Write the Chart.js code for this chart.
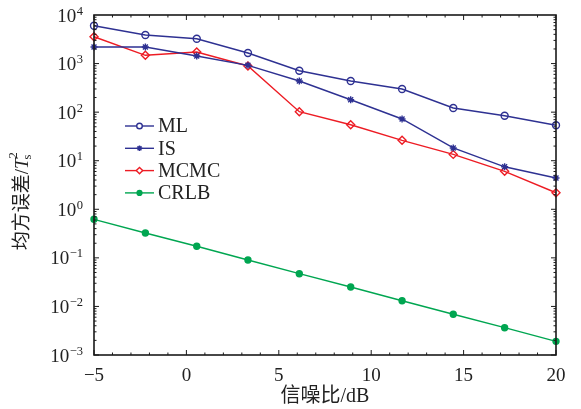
<!DOCTYPE html>
<html>
<head>
<meta charset="utf-8">
<script src="https://cdn.jsdelivr.net/npm/chart.js@4"></script>
<style>
  html, body { margin: 0; padding: 0; background: #fff; }
  #wrap { width: 581px; height: 409px; }
</style>
</head>
<body>
<div id="wrap"><canvas id="myChart" width="581" height="409"></canvas></div>
<script>
// SNR (dB) at which each method was evaluated
var snr = [-5, -2.22, 0.56, 3.33, 6.11, 8.89, 11.67, 14.44, 17.22, 20];

var mseML   = [6000, 3870, 3250, 1650, 713, 438, 299, 122, 84.5, 53.7];
var mseIS   = [2190, 2190, 1430, 921, 438, 180, 72.3, 18.3, 7.5, 4.4];
var mseMCMC = [3570, 1480, 1730, 891, 102, 55, 26.3, 13.5, 6.05, 2.19];
var mseCRLB = [0.622, 0.325, 0.173, 0.0904, 0.0472, 0.0251, 0.0131, 0.00689, 0.00365, 0.00191];

var yTicks = [1e-3, 1e-2, 1e-1, 1e0, 1e1, 1e2, 1e3, 1e4];
var xTicks = [-5, 0, 5, 10, 15, 20];

var serif = "'Liberation Serif', 'DejaVu Serif', serif";
var cjk = "'Liberation Serif', 'Noto Sans CJK SC', serif";

function pts(ys) {
  return ys.map(function(v, i) { return { x: snr[i], y: v }; });
}

// box border, inward ticks, y tick labels with exponents, y title and the legend
var framePlugin = {
  id: 'frame',
  afterDatasetsDraw: function(chart) {
    var ctx = chart.ctx, a = chart.chartArea;
    var xs = chart.scales.x, ys = chart.scales.y;
    ctx.save();
    ctx.strokeStyle = '#1a1a1a';
    ctx.lineWidth = 1;
    var i, k, d, p, len;
    for (i = -5; i <= 20; i++) {
      p = xs.getPixelForValue(i);
      len = (i % 5 === 0) ? 5 : 2.5;
      ctx.beginPath();
      ctx.moveTo(p, a.bottom); ctx.lineTo(p, a.bottom - len);
      ctx.moveTo(p, a.top); ctx.lineTo(p, a.top + len);
      ctx.stroke();
    }
    for (d = -3; d <= 3; d++) {
      for (k = 1; k <= 9; k++) {
        p = ys.getPixelForValue(k * Math.pow(10, d));
        len = (k === 1) ? 5 : 2.5;
        ctx.beginPath();
        ctx.moveTo(a.left, p); ctx.lineTo(a.left + len, p);
        ctx.moveTo(a.right, p); ctx.lineTo(a.right - len, p);
        ctx.stroke();
      }
    }
    ctx.lineWidth = 1.6;
    ctx.strokeRect(a.left, a.top, a.right - a.left, a.bottom - a.top);

    // y tick labels: 10 with a raised exponent
    ctx.fillStyle = '#222';
    ctx.textBaseline = 'alphabetic';
    ctx.textAlign = 'left';
    ys.ticks.forEach(function(t) {
      var y = ys.getPixelForValue(t.value);
      var e = Math.round(Math.log10(t.value));
      var es = e < 0 ? '\u2212' + (-e) : '' + e;
      ctx.font = '12.5px ' + serif;
      var ew = ctx.measureText(es).width;
      var ex = a.left - 11 - ew;
      ctx.fillText(es, ex, y - 0.5);
      ctx.font = '19px ' + serif;
      var bw = ctx.measureText('10').width;
      ctx.fillText('10', ex - bw - 0.5, y + 6.5);
    });

    // y axis title: 均方误差/T_s^2
    ctx.save();
    ctx.translate(23, (a.top + a.bottom) / 2 + 17);
    ctx.rotate(-Math.PI / 2);
    var f1 = '19px ' + cjk, f2 = 'italic 19px ' + serif, f3 = '12.5px ' + serif;
    ctx.font = f1; var w1 = ctx.measureText('均方误差/').width;
    ctx.font = f2; var w2 = ctx.measureText('T').width;
    ctx.font = f3; var w3 = ctx.measureText('s').width;
    var x0 = -(w1 + w2 + w3) / 2;
    ctx.textBaseline = 'middle';
    ctx.font = f1; ctx.fillText('均方误差/', x0, 0);
    ctx.font = f2; ctx.fillText('T', x0 + w1, 0);
    ctx.font = f3;
    ctx.fillText('s', x0 + w1 + w2 - 1, 5);
    ctx.fillText('2', x0 + w1 + w2, -9);
    ctx.restore();

    // legend
    var lx = a.left + 31, ly = a.top + 111, gap = 22.3;
    chart.data.datasets.forEach(function(ds, n) {
      var y = ly + n * gap;
      ctx.strokeStyle = ds.borderColor;
      ctx.lineWidth = 1.4;
      ctx.beginPath();
      ctx.moveTo(lx, y); ctx.lineTo(lx + 29, y);
      ctx.stroke();
      ctx.fillStyle = ds.pointBackgroundColor === 'transparent' ? '#fff' : ds.pointBackgroundColor;
      Chart.helpers.drawPoint(ctx, {
        pointStyle: ds.pointStyle, radius: ds.pointRadius * 0.8,
        borderWidth: ds.pointBorderWidth, rotation: 0
      }, lx + 14.5, y);
      ctx.fillStyle = '#222';
      ctx.font = '20px ' + serif;
      ctx.textBaseline = 'middle';
      ctx.textAlign = 'left';
      ctx.fillText(ds.label, lx + 33, y + 1);
    });
    ctx.restore();
  }
};

var blue = 'rgb(46,49,146)';
var red = 'rgb(237,28,36)';
var green = 'rgb(0,166,81)';

function series(label, ys, color, style, r, fill) {
  return {
    label: label,
    data: pts(ys),
    borderColor: color,
    backgroundColor: color,
    pointBackgroundColor: fill ? color : 'transparent',
    pointBorderColor: color,
    pointStyle: style,
    pointRadius: r,
    pointBorderWidth: 1.4,
    borderWidth: 1.4,
    tension: 0,
    clip: false
  };
}

var ctx = document.getElementById('myChart');
var myChart = new Chart(ctx, {
  type: 'line',
  data: {
    datasets: [
      series('ML', mseML, blue, 'circle', 3.5, false),
      series('IS', mseIS, blue, 'star', 3.5, true),
      series('MCMC', mseMCMC, red, 'rectRot', 4, false),
      series('CRLB', mseCRLB, green, 'circle', 3, true)
    ]
  },
  options: {
    responsive: false,
    animation: false,
    devicePixelRatio: 1,
    layout: { padding: { left: 0, right: 25, top: 15, bottom: 0 } },
    plugins: {
      legend: { display: false },
      tooltip: { enabled: false }
    },
    scales: {
      x: {
        type: 'linear',
        min: -5,
        max: 20,
        afterBuildTicks: function(scale) {
          scale.ticks = xTicks.map(function(v) { return { value: v }; });
        },
        afterFit: function(scale) {
          scale.height = 54;
          scale.paddingLeft = 0;
          scale.paddingRight = 0;
        },
        grid: { display: false, drawTicks: false },
        border: { display: false },
        ticks: {
          padding: 10,
          color: '#222',
          font: { family: serif, size: 19 },
          maxRotation: 0,
          callback: function(v) { return v < 0 ? '\u2212' + Math.abs(v) : '' + v; }
        },
        title: {
          display: true,
          text: '信噪比/dB',
          color: '#222',
          padding: { top: 4, bottom: 0 },
          font: { family: cjk, size: 20 }
        }
      },
      y: {
        type: 'logarithmic',
        min: 1e-3,
        max: 1e4,
        afterBuildTicks: function(scale) {
          scale.ticks = yTicks.map(function(v) { return { value: v, major: true }; });
        },
        afterFit: function(scale) {
          scale.width = 94;
          scale.paddingTop = 0;
          scale.paddingBottom = 0;
        },
        grid: { display: false, drawTicks: false },
        border: { display: false },
        ticks: { display: false }
      }
    }
  },
  plugins: [framePlugin]
});
</script>
</body>
</html>
